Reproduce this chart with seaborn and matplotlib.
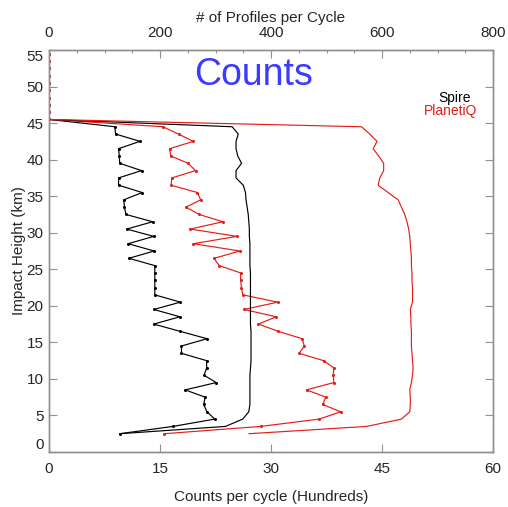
import numpy as np
import pandas as pd
from matplotlib import pyplot as plt
import seaborn as sns

# impact height bins (km), 2.5 .. 44.5, then empty bins up to 55.5
heights = np.arange(2.5, 45.0, 1.0)
heights_top = np.arange(45.5, 56.0, 1.0)
zeros_top = [0.0] * len(heights_top)

# counts per cycle (hundreds), bottom axis
spire_counts = [9.55, 16.75, 22.4, 21.35, 20.9, 21.1, 18.4, 22.6, 20.95, 21.3,
                21.3, 17.9, 17.9, 21.35, 17.75, 14.15, 17.7, 14.15, 17.75, 14.3,
                14.3, 14.3, 14.3, 14.3, 10.8, 14.2, 10.7, 14.15, 10.5, 14.0,
                10.4, 10.2, 10.1, 12.6, 9.4, 9.4, 12.5, 9.55, 9.5, 9.4,
                12.3, 9.0, 8.9]
planetiq_counts = [15.55, 28.6, 36.5, 39.4, 37.0, 37.4, 34.8, 38.5, 38.4, 38.5,
                   37.1, 33.8, 34.5, 34.2, 31.0, 28.3, 30.7, 26.35, 30.9, 26.2,
                   26.0, 25.9, 25.9, 23.0, 22.3, 25.8, 19.5, 25.4, 19.1, 23.5,
                   20.3, 18.5, 20.5, 20.05, 16.5, 16.6, 19.8, 18.8, 16.45, 16.3,
                   19.5, 17.5, 15.4]

# number of profiles per cycle, top axis
spire_profiles = [127, 318, 349, 360, 362, 362, 362, 362, 362, 363,
                  364, 364, 364, 364, 364, 363, 363, 363, 363, 363,
                  363, 363, 363, 362, 362, 362, 362, 361, 361, 360,
                  359, 357, 355, 354, 350, 337, 337, 347, 340, 337,
                  337, 341, 330]
planetiq_profiles = [360, 572, 635, 650, 651, 651, 650, 653, 655, 656,
                     655, 654, 653, 653, 653, 652, 652, 651, 655, 655,
                     655, 654, 654, 653, 653, 652, 651, 650, 648, 645,
                     641, 635, 629, 611, 593, 596, 603, 603, 594, 584,
                     591, 578, 563]

black = "#000000"
red = "#e51c18"


def series(vals):
    return pd.DataFrame({"x": list(vals) + zeros_top,
                         "h": list(heights) + list(heights_top)})


sns.set_style("white")
plt.rcParams["font.family"] = ["Liberation Sans", "DejaVu Sans"]

fig = plt.figure(figsize=(5.08, 5.07), dpi=100)
ax = fig.add_axes([49 / 508, 1 - 452 / 507, 444 / 508, 402 / 507])
ax2 = ax.twiny()

for vals, c in [(spire_counts, black), (planetiq_counts, red)]:
    sns.lineplot(data=series(vals), x="x", y="h", sort=False, estimator=None,
                 color=c, lw=0.85, marker="o", markersize=2.2, mec=c, mew=0,
                 ax=ax)
for vals, c in [(spire_profiles, black), (planetiq_profiles, red)]:
    sns.lineplot(data=series(vals), x="x", y="h", sort=False, estimator=None,
                 color=c, lw=0.85, ax=ax2)

ax.set_xlim(0, 60)
ax.set_ylim(0, 55)
ax2.set_xlim(0, 800)
ax.set_xticks([0, 15, 30, 45, 60])
ax.set_yticks(range(0, 56, 5))
ax2.set_xticks(range(0, 801, 200))
ax2.set_xticks(range(0, 801, 50), minor=True)

for a in (ax, ax2):
    for s in a.spines.values():
        s.set_color("#909090")
        s.set_linewidth(1.0)
ax.tick_params(axis="both", direction="in", length=6, width=0.8,
               color="#909090", labelsize=11, pad=7, left=True, right=True,
               bottom=True, top=False)
ax2.tick_params(axis="x", which="major", direction="in", length=6, width=0.8,
                color="#909090", labelsize=11, pad=7)
ax2.tick_params(axis="x", which="minor", direction="in", length=2.5,
                width=0.8, color="#909090")
ax.tick_params(axis="y", pad=4)

ylabels = ax.get_yticklabels()
ylabels[0].set_va("bottom")
ylabels[-1].set_va("top")

ax.set_xlabel("Counts per cycle (Hundreds)", fontsize=11, labelpad=10)
ax.set_ylabel("Impact Height (km)", fontsize=11, labelpad=0.5)
ax2.set_xlabel("# of Profiles per Cycle", fontsize=11, labelpad=3)

ax.text(0.46, 0.938, "Counts", transform=ax.transAxes, color="#3b3bff",
        fontsize=27, ha="center", va="center")
ax.text(0.914, 0.881, "Spire", transform=ax.transAxes, color=black,
        fontsize=10, ha="center", va="center")
ax.text(0.904, 0.849, "PlanetiQ", transform=ax.transAxes, color=red,
        fontsize=10, ha="center", va="center")

fig.savefig("out.png", dpi=100)
